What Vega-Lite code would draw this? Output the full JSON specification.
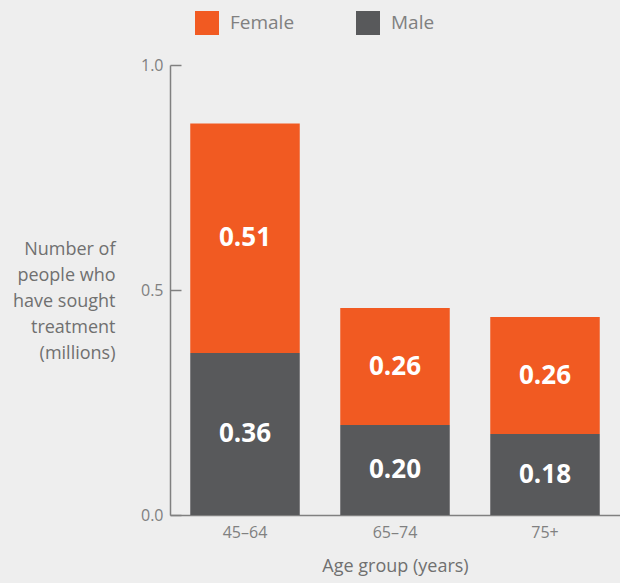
{
  "$schema": "https://vega.github.io/schema/vega-lite/v6.json",
  "autosize": {"type": "none"},
  "width": 450,
  "height": 450,
  "padding": {"left": 170, "top": 65, "right": 0, "bottom": 68},
  "background": "#EEEEEE",
  "config": {
    "font": "Open Sans",
    "view": {"stroke": null}
  },
  "data": {
    "values": [
      {"age": "45–64", "sex": "Female", "value": 0.51},
      {"age": "45–64", "sex": "Male", "value": 0.36},
      {"age": "65–74", "sex": "Female", "value": 0.26},
      {"age": "65–74", "sex": "Male", "value": 0.20},
      {"age": "75+", "sex": "Female", "value": 0.26},
      {"age": "75+", "sex": "Male", "value": 0.18}
    ]
  },
  "transform": [
    {"stack": "value", "groupby": ["age"], "sort": [{"field": "sex", "order": "descending"}], "as": ["v0", "v1"]}
  ],
  "encoding": {
    "x": {
      "field": "age",
      "type": "nominal",
      "sort": null,
      "scale": {"paddingInner": 0.27, "paddingOuter": 0.135},
      "axis": {
        "title": "Age group (years)",
        "titleFontSize": 18,
        "titleFontWeight": "normal",
        "titleColor": "#707070",
        "titlePadding": 17,
        "labelAngle": 0,
        "labelFontSize": 16,
        "labelColor": "#808080",
        "labelPadding": 9,
        "ticks": false,
        "domainColor": "#808080",
        "domainWidth": 1.5
      }
    }
  },
  "layer": [
    {
      "mark": {"type": "bar"},
      "encoding": {
        "y": {
          "field": "v0",
          "type": "quantitative",
          "scale": {"domain": [0, 1]},
          "axis": {
            "values": [0, 0.5, 1],
            "format": ".1f",
            "grid": false,
            "title": ["Number of", "people who", "have sought", "treatment", "(millions)"],
            "titleAngle": 0,
            "titleAlign": "right",
            "titleBaseline": "middle",
            "titleX": -55,
            "titleY": 184,
            "titleFontSize": 18,
            "titleFontWeight": "normal",
            "titleColor": "#707070",
            "titleLineHeight": 26,
            "labelFontSize": 16,
            "labelColor": "#808080",
            "labelPadding": 18,
            "tickSize": -11,
            "tickColor": "#808080",
            "tickWidth": 1.5,
            "domainColor": "#808080",
            "domainWidth": 1.5
          }
        },
        "y2": {"field": "v1"},
        "color": {
          "field": "sex",
          "type": "nominal",
          "scale": {"domain": ["Female", "Male"], "range": ["#F15A22", "#58595B"]},
          "legend": {
            "title": null,
            "orient": "none",
            "direction": "horizontal",
            "legendX": 25,
            "legendY": -54,
            "symbolType": "square",
            "symbolSize": 576,
            "symbolStrokeWidth": 0,
            "labelFontSize": 19,
            "labelColor": "#808080",
            "labelOffset": 11,
            "columnPadding": 61
          }
        }
      }
    },
    {
      "transform": [
        {"fold": ["v0", "v1"], "as": ["edge", "pos"]}
      ],
      "mark": {"type": "text", "color": "white", "fontSize": 26, "fontWeight": "bold", "baseline": "middle"},
      "encoding": {
        "y": {
          "aggregate": "mean",
          "field": "pos",
          "type": "quantitative",
          "axis": {"title": ["Number of", "people who", "have sought", "treatment", "(millions)"]}
        },
        "detail": {"field": "sex"},
        "text": {"aggregate": "max", "field": "value", "type": "quantitative", "format": ".2f"}
      }
    }
  ]
}
